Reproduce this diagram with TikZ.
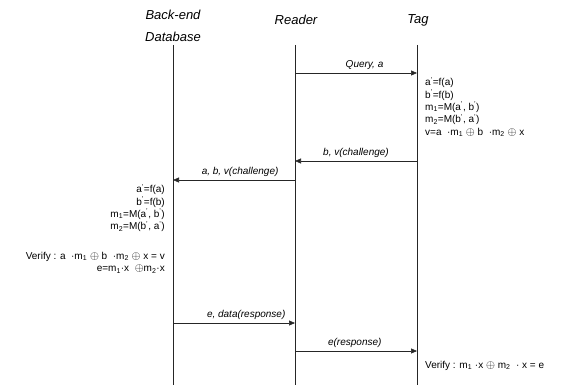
\documentclass[tikz,border=0pt]{standalone}
\usepackage{fontspec}
\setmainfont{Liberation Sans}
\usetikzlibrary{arrows.meta}
\newcommand{\pr}{\textsuperscript{'}}
\newcommand{\xo}{\scalebox{1.15}{$\oplus$}}
\newcommand{\ox}{\ \xo\ }
\begin{document}
\begin{tikzpicture}[x=1pt,y=-1pt,
	head/.style={font=\fontsize{13}{22}\selectfont\itshape,align=center},
	life/.style={line width=0.6pt,draw=black!85},
	msg/.style={-{Triangle[length=6pt,width=5pt]},line width=0.6pt,draw=black!85},
	lbl/.style={font=\fontsize{10}{11}\selectfont\itshape,above=0pt},
	calc/.style={font=\fontsize{10}{12.4}\selectfont,inner sep=0pt}]
	\useasboundingbox (0,0) rectangle (561,385);
	% heads
	\node[head](db)at(173,26){Back-end\\Database};
	\node[head](rd)at(296,20){Reader};
	\node[head](tg)at(418,20){Tag};
	% lifelines
	\coordinate(dbtop)at(173,45);\coordinate(dbbot)at(173,385);
	\coordinate(rdtop)at(295,45);\coordinate(rdbot)at(295,385);
	\coordinate(tgtop)at(417,45);\coordinate(tgbot)at(417,385);
	\draw[life](dbtop)--(dbbot);
	\draw[life](rdtop)--(rdbot);
	\draw[life](tgtop)--(tgbot);
	% messages
	\coordinate(q1)at(295,73);\coordinate(q2)at(417,73);
	\coordinate(c1)at(417,161);\coordinate(c2)at(295,161);
	\coordinate(f1)at(295,180);\coordinate(f2)at(173,180);
	\coordinate(r1)at(173,323);\coordinate(r2)at(295,323);
	\coordinate(s1)at(295,351);\coordinate(s2)at(417,351);
	\draw[msg](q1)--node[lbl,pos=.57]{Query, a}(q2);
	\draw[msg](c1)--node[lbl]{b, v(challenge)}(c2);
	\draw[msg](f1)--node[lbl,pos=.45]{a, b, v(challenge)}(f2);
	\draw[msg](r1)--node[lbl,pos=.6]{e, data(response)}(r2);
	\draw[msg](s1)--node[lbl,pos=.49]{e(response)}(s2);
	% computations
	\node[calc,anchor=north west,align=left](tgcalc)at(425,77){a\pr=f(a)\\b\pr=f(b)\\m\textsubscript{1}=M(a\pr, b\pr)\\m\textsubscript{2}=M(b\pr, a\pr)\\v=a \ ·m\textsubscript{1}\ox b \ ·m\textsubscript{2}\ox x};
	\node[calc,anchor=north east,align=right](dbcalc)at(165,184){a\pr=f(a)\\b\pr=f(b)\\m\textsubscript{1}=M(a\pr, b\pr)\\m\textsubscript{2}=M(b\pr, a\pr)};
	\node[calc,anchor=north east,align=right](dbver)at(165,252){Verify : a \ ·m\textsubscript{1}\ox b \ ·m\textsubscript{2}\ox x = v\\e=m\textsubscript{1}·x \ \xo m\textsubscript{2}·x};
	\node[calc,anchor=north west,align=left](tgver)at(425,361){Verify : m\textsubscript{1} ·x\ox m\textsubscript{2} \ ·  x = e};
\end{tikzpicture}
\end{document}
